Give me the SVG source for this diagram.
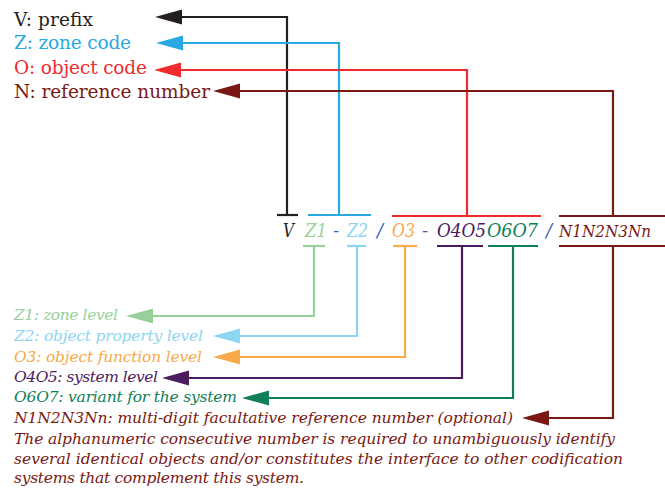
<svg xmlns="http://www.w3.org/2000/svg" width="665" height="492" viewBox="0 0 665 492">
  <style>
    text { font-family: "DejaVu Serif", "Liberation Serif", serif; }
    .head { font-size: 18.5px; }
    .code { font-size: 18px; font-style: italic; }
    .tail { font-size: 16.5px; }
    .note { font-size: 15.5px; font-style: italic; }
    .ln { fill: none; stroke-width: 2.2; stroke-linejoin: miter; }
    .k { fill: #231f20; stroke: #231f20; }
    .b { fill: #29a9e1; stroke: #29a9e1; }
    .r { fill: #ef2b2d; stroke: #ef2b2d; }
    .m { fill: #7a1813; stroke: #7a1813; }
    .g1 { fill: #98d09b; stroke: #98d09b; }
    .b2 { fill: #8dd5f2; stroke: #8dd5f2; }
    .o { fill: #f8a94a; stroke: #f8a94a; }
    .p { fill: #4c1c5e; stroke: #4c1c5e; }
    .g2 { fill: #0f7f58; stroke: #0f7f58; }
    .sep { fill: #2f62b3; }
    text.k, text.b, text.r, text.m, text.g1, text.b2, text.o, text.p, text.g2 { stroke: none; }
    path.ln { fill: none; }
  </style>
  <defs>
    <marker id="ak" markerUnits="userSpaceOnUse" markerWidth="28" markerHeight="16" refX="0" refY="8" orient="auto-start-reverse"><path d="M0,0.5 L27,8 L0,15.5 z" fill="#231f20"/></marker>
    <marker id="ab" markerUnits="userSpaceOnUse" markerWidth="28" markerHeight="16" refX="0" refY="8" orient="auto-start-reverse"><path d="M0,0.5 L27,8 L0,15.5 z" fill="#29a9e1"/></marker>
    <marker id="ar" markerUnits="userSpaceOnUse" markerWidth="28" markerHeight="16" refX="0" refY="8" orient="auto-start-reverse"><path d="M0,0.5 L27,8 L0,15.5 z" fill="#ef2b2d"/></marker>
    <marker id="am" markerUnits="userSpaceOnUse" markerWidth="28" markerHeight="16" refX="0" refY="8" orient="auto-start-reverse"><path d="M0,0.5 L27,8 L0,15.5 z" fill="#7a1813"/></marker>
    <marker id="ag1" markerUnits="userSpaceOnUse" markerWidth="28" markerHeight="16" refX="0" refY="8" orient="auto-start-reverse"><path d="M0,0.5 L27,8 L0,15.5 z" fill="#98d09b"/></marker>
    <marker id="ab2" markerUnits="userSpaceOnUse" markerWidth="28" markerHeight="16" refX="0" refY="8" orient="auto-start-reverse"><path d="M0,0.5 L27,8 L0,15.5 z" fill="#8dd5f2"/></marker>
    <marker id="ao" markerUnits="userSpaceOnUse" markerWidth="28" markerHeight="16" refX="0" refY="8" orient="auto-start-reverse"><path d="M0,0.5 L27,8 L0,15.5 z" fill="#f8a94a"/></marker>
    <marker id="ap" markerUnits="userSpaceOnUse" markerWidth="28" markerHeight="16" refX="0" refY="8" orient="auto-start-reverse"><path d="M0,0.5 L27,8 L0,15.5 z" fill="#4c1c5e"/></marker>
    <marker id="ag2" markerUnits="userSpaceOnUse" markerWidth="28" markerHeight="16" refX="0" refY="8" orient="auto-start-reverse"><path d="M0,0.5 L27,8 L0,15.5 z" fill="#0f7f58"/></marker>
  </defs>
  <rect width="665" height="492" fill="#ffffff"/>

  <!-- segment labels above the code -->
  <g id="label-prefix"><text class="head k" x="14" y="26" textLength="79">V: prefix</text></g>
  <g id="label-zone"><text class="head b" x="14" y="49" textLength="117">Z: zone code</text></g>
  <g id="label-object"><text class="head r" x="14" y="74" textLength="133">O: object code</text></g>
  <g id="label-reference"><text class="head m" x="14" y="98" textLength="196">N: reference number</text></g>

  <!-- the code string -->
  <g id="code">
    <text class="code k" x="283" y="237" textLength="11" lengthAdjust="spacingAndGlyphs">V</text>
    <text class="code g1" x="305" y="237" textLength="22" lengthAdjust="spacingAndGlyphs">Z1</text>
    <text class="code sep" x="333" y="237">-</text>
    <text class="code b2" x="347" y="237" textLength="21" lengthAdjust="spacingAndGlyphs">Z2</text>
    <text class="code sep" x="377" y="237">/</text>
    <text class="code o" x="392" y="237" textLength="23" lengthAdjust="spacingAndGlyphs">O3</text>
    <text class="code sep" x="422" y="237">-</text>
    <text class="code p" x="437" y="237" textLength="49" lengthAdjust="spacingAndGlyphs">O4O5</text>
    <text class="code g2" x="487" y="237" textLength="51" lengthAdjust="spacingAndGlyphs">O6O7</text>
    <text class="code sep" x="546" y="237">/</text>
    <text class="code tail m" x="559" y="237" textLength="92" lengthAdjust="spacingAndGlyphs">N1N2N3Nn</text>
  </g>

  <!-- descriptions below the code -->
  <g id="label-z1"><text class="note g1" x="14" y="320" textLength="104">Z1: zone level</text></g>
  <g id="label-z2"><text class="note b2" x="14" y="341" textLength="189">Z2: object property level</text></g>
  <g id="label-o3"><text class="note o" x="14" y="362" textLength="188">O3: object function level</text></g>
  <g id="label-o4o5"><text class="note p" x="14" y="382" textLength="144">O4O5: system level</text></g>
  <g id="label-o6o7"><text class="note g2" x="14" y="402" textLength="223">O6O7: variant for the system</text></g>
  <g id="label-n">
    <text class="note m" x="14" y="423" textLength="499">N1N2N3Nn: multi-digit facultative reference number (optional)</text>
    <text class="note m" x="14" y="444" textLength="601">The alphanumeric consecutive number is required to unambiguously identify</text>
    <text class="note m" x="14" y="464" textLength="609">several identical objects and/or constitutes the interface to other codification</text>
    <text class="note m" x="14" y="483" textLength="290">systems that complement this system.</text>
  </g>

  <!-- brackets and connectors -->
  <g id="connectors">
    <!-- upper brackets -->
    <path class="ln k" d="M277,215 H298"/>
    <path class="ln b" d="M308,215 H371"/>
    <path class="ln r" d="M392,216 H541"/>
    <path class="ln m" d="M559,216 H668"/>
    <!-- lower brackets -->
    <path class="ln g1" d="M303,246 H325"/>
    <path class="ln b2" d="M347,246 H366"/>
    <path class="ln o" d="M393,246 H417"/>
    <path class="ln p" d="M437,246 H483"/>
    <path class="ln g2" d="M488,246 H538"/>
    <path class="ln m" d="M559,246 H668"/>
    <!-- upper leaders -->
    <path class="ln k" d="M182,17 H287 V215" marker-start="url(#ak)"/>
    <path class="ln b" d="M183,43 H339 V215" marker-start="url(#ab)"/>
    <path class="ln r" d="M181,70 H467 V216" marker-start="url(#ar)"/>
    <path class="ln m" d="M240,91 H613 V216" marker-start="url(#am)"/>
    <!-- lower leaders -->
    <path class="ln g1" d="M153,316 H314 V246" marker-start="url(#ag1)"/>
    <path class="ln b2" d="M240,336 H357 V246" marker-start="url(#ab2)"/>
    <path class="ln o" d="M240,357 H405 V246" marker-start="url(#ao)"/>
    <path class="ln p" d="M189,378 H462 V246" marker-start="url(#ap)"/>
    <path class="ln g2" d="M269,398 H513 V246" marker-start="url(#ag2)"/>
    <path class="ln m" d="M549,418 H613 V246" marker-start="url(#am)"/>
  </g>
</svg>
